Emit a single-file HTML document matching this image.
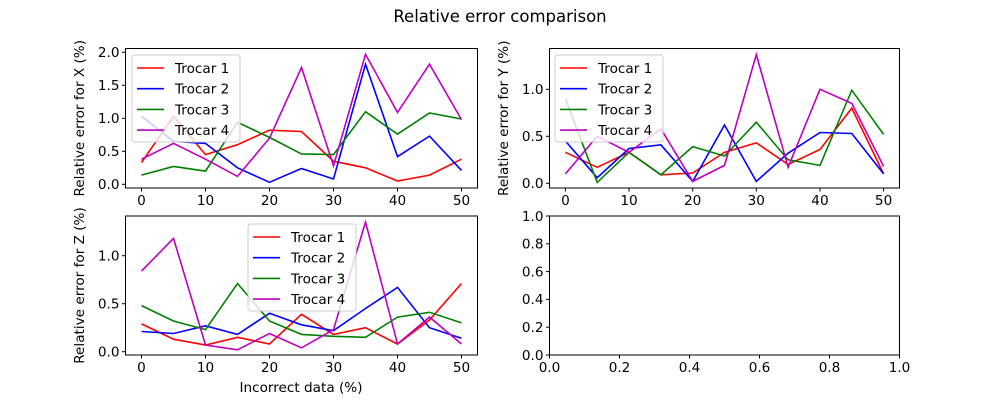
<!DOCTYPE html>
<html><head><meta charset="utf-8"><style>
body{margin:0;background:#fff;}
svg text{font-family:"DejaVu Sans","Liberation Sans",sans-serif;fill:#000;}
</style></head><body>
<svg id="fig" width="1000" height="400" viewBox="0 0 1000 400" xmlns="http://www.w3.org/2000/svg">
<rect width="1000" height="400" fill="#fff"/>
<text x="500" y="22" text-anchor="middle" font-size="16.5">Relative error comparison</text>
</svg>
<script>
const xValues=[0,5,10,15,20,25,30,35,40,45,50];
const seriesNames=["Trocar 1","Trocar 2","Trocar 3","Trocar 4"];
const colors=["#ff0000","#0000ff","#008000","#bf00bf"];
const xErrT1=[0.33,1.03,0.45,0.6,0.82,0.8,0.35,0.25,0.05,0.14,0.38];
const xErrT2=[1.03,0.65,0.62,0.25,0.03,0.24,0.08,1.82,0.42,0.73,0.21];
const xErrT3=[0.14,0.27,0.2,0.94,0.71,0.46,0.45,1.1,0.76,1.08,0.99];
const xErrT4=[0.38,0.62,0.38,0.12,0.7,1.77,0.28,1.97,1.09,1.82,0.98];
const yErrT1=[0.33,0.17,0.33,0.09,0.11,0.33,0.43,0.2,0.36,0.8,0.1];
const yErrT2=[0.45,0.06,0.37,0.41,0.02,0.62,0.02,0.32,0.54,0.53,0.1];
const yErrT3=[0.9,0.01,0.33,0.09,0.39,0.29,0.65,0.25,0.19,0.99,0.52];
const yErrT4=[0.1,0.5,0.33,0.58,0.02,0.19,1.37,0.17,1.0,0.85,0.18];
const zErrT1=[0.29,0.13,0.07,0.15,0.08,0.39,0.18,0.25,0.08,0.33,0.71];
const zErrT2=[0.21,0.19,0.27,0.18,0.4,0.28,0.22,0.45,0.67,0.25,0.14];
const zErrT3=[0.48,0.32,0.23,0.71,0.32,0.18,0.16,0.15,0.36,0.41,0.3];
const zErrT4=[0.84,1.18,0.07,0.02,0.19,0.04,0.23,1.35,0.08,0.36,0.08];
const xTicks=[0,10,20,30,40,50];
const xTickLabels=["0","10","20","30","40","50"];
const yTicksX=[0,0.5,1,1.5,2];
const yTickLabelsX=["0.0","0.5","1.0","1.5","2.0"];
const yTicksYZ=[0,0.5,1];
const yTickLabelsYZ=["0.0","0.5","1.0"];
const emptyTicks=[0,0.2,0.4,0.6,0.8,1];
const emptyTickLabels=["0.0","0.2","0.4","0.6","0.8","1.0"];

const NS="http://www.w3.org/2000/svg";
const svg=document.getElementById('fig');
function mk(tag,attrs,parent){const e=document.createElementNS(NS,tag);for(const k in attrs)e.setAttribute(k,attrs[k]);(parent||svg).appendChild(e);return e;}
const FS=13.6;
function panel(p){
  const g=mk('g',{});
  
  
  const sx=v=>p.L+(v-p.xmin)/(p.xmax-p.xmin)*(p.R-p.L);
  const sy=v=>p.B-(v-p.ymin)/(p.ymax-p.ymin)*(p.B-p.T);
  p.series.forEach((s,i)=>{
    const pts=xValues.map((x,j)=>sx(x).toFixed(1)+','+sy(s[j]).toFixed(1)).join(' ');
    const pl=mk('polyline',{points:pts,fill:'none',stroke:colors[i],'stroke-width':1.6},g);
    
    
  });
  const fr=mk('rect',{x:p.L,y:p.T,width:p.R-p.L,height:p.B-p.T,fill:'none',stroke:'#000','stroke-width':1},g);
  
  
  p.xt.forEach((t,i)=>{
    const x=sx(t);
    mk('line',{x1:x,x2:x,y1:p.B,y2:p.B+3.5,stroke:'#000'},g);
    const tx=mk('text',{x:x,y:p.B+17,'text-anchor':'middle','font-size':FS},g);
    tx.textContent=p.xl[i];
    
    
  });
  p.yt.forEach((t,i)=>{
    const y=sy(t);
    mk('line',{x1:p.L-3.5,x2:p.L,y1:y,y2:y,stroke:'#000'},g);
    const tx=mk('text',{x:p.L-6,y:y+4.8,'text-anchor':'end','font-size':FS},g);
    tx.textContent=p.yl[i];
    
    
  });
  if(p.ylabel){
    const cy=(p.T+p.B)/2;
    const t=mk('text',{x:p.ylx,y:cy,'text-anchor':'middle','font-size':FS,transform:`rotate(-90 ${p.ylx} ${cy})`},g);
    t.textContent=p.ylabel;
    
    
  }
  if(p.legend){
    const lg=mk('g',{},g);
    
    
    const [lx,ly]=p.legend;
    mk('rect',{x:lx,y:ly,width:108,height:87,rx:3,fill:'#fff','fill-opacity':0.8,stroke:'#ccc'},lg);
    seriesNames.forEach((n,i)=>{
      const yy=ly+13+i*20.7;
      const e=mk('g',{},lg);
      
      
      mk('line',{x1:lx+5,x2:lx+32,y1:yy,y2:yy,stroke:colors[i],'stroke-width':1.6},e);
      const t=mk('text',{x:lx+43,y:yy+5,'font-size':FS},e);
      t.textContent=n;
    });
  }
}
panel({name:'x-error-chart',key:'x',L:125.5,R:477.5,T:48.5,B:188,xmin:-2.5,xmax:52.5,ymin:(184.3-188)/66,ymax:(184.3-48.5)/66,
  series:[xErrT1,xErrT2,xErrT3,xErrT4],xt:xTicks,xl:xTickLabels,yt:yTicksX,yl:yTickLabelsX,
  ylabel:'Relative error for X (%)',ylx:84,legend:[132,55]});
panel({name:'y-error-chart',key:'y',L:549.5,R:899.5,T:48.5,B:188,xmin:-2.5,xmax:52.5,ymin:(183.3-188)/94,ymax:(183.3-48.5)/94,
  series:[yErrT1,yErrT2,yErrT3,yErrT4],xt:xTicks,xl:xTickLabels,yt:yTicksYZ,yl:yTickLabelsYZ,
  ylabel:'Relative error for Y (%)',ylx:508,legend:[555,55]});
panel({name:'z-error-chart',key:'z',L:125.5,R:477.5,T:216,B:355,xmin:-2.5,xmax:52.5,ymin:(351.7-355)/96,ymax:(351.7-216)/96,
  series:[zErrT1,zErrT2,zErrT3,zErrT4],xt:xTicks,xl:xTickLabels,yt:yTicksYZ,yl:yTickLabelsYZ,
  ylabel:'Relative error for Z (%)',ylx:84,legend:[248,224]});
panel({name:'empty-chart',key:'empty',L:549.5,R:899.5,T:216,B:355,xmin:0,xmax:1,ymin:0,ymax:1,
  series:[],xt:emptyTicks,xl:emptyTickLabels,yt:emptyTicks,yl:emptyTickLabels});
const xl=mk('text',{x:301,y:392,'text-anchor':'middle','font-size':FS});
xl.textContent='Incorrect data (%)';


</script>
</body></html>
